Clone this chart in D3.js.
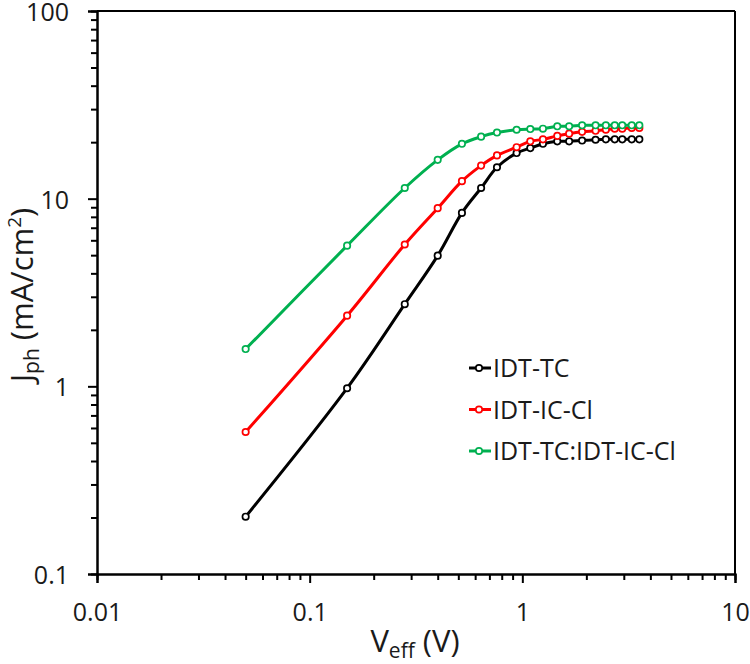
<!DOCTYPE html>
<html>
<head>
<meta charset="utf-8">
<script src="https://cdn.jsdelivr.net/npm/d3@7"></script>
<style>
  html, body { margin: 0; padding: 0; background: #fff; }
  svg { display: block; font-family: "Open Sans", "Noto Sans", sans-serif; }
</style>
</head>
<body>
<svg id="chart" width="750" height="664"></svg>
<script>
// ---- data ----
const veff = [0.05, 0.15, 0.28, 0.40, 0.52, 0.64, 0.76, 0.94, 1.09, 1.25, 1.46, 1.66, 1.91, 2.21, 2.47, 2.72, 2.95, 3.27, 3.55];
const jphIDTTC = [0.202, 0.977, 2.74, 4.97, 8.4, 11.4, 14.7, 17.5, 18.6, 19.6, 20.2, 20.2, 20.4, 20.6, 20.7, 20.7, 20.7, 20.7, 20.7];
const jphIDTICCl = [0.571, 2.38, 5.7, 8.9, 12.4, 15.0, 17.0, 18.8, 20.2, 20.7, 21.6, 22.2, 22.7, 23.0, 23.3, 23.6, 23.6, 23.8, 23.8];
const jphBlend = [1.58, 5.62, 11.4, 16.1, 19.6, 21.4, 22.5, 23.3, 23.5, 23.6, 24.3, 24.3, 24.6, 24.6, 24.6, 24.6, 24.6, 24.6, 24.6];
const seriesNames = ["IDT-TC", "IDT-IC-Cl", "IDT-TC:IDT-IC-Cl"];
const seriesColors = ["#000000", "#ff0000", "#00b050"];
const xTickValues = [0.01, 0.1, 1, 10];
const xTickLabels = ["0.01", "0.1", "1", "10"];
const yTickValues = [0.1, 1, 10, 100];
const yTickLabels = ["0.1", "1", "10", "100"];

const seriesData = [jphIDTTC, jphIDTICCl, jphBlend];

// ---- layout ----
const svg = d3.select("#chart");
const L = 97, R = 735, T = 11, B = 574;

const x = d3.scaleLog().domain([0.01, 10]).range([L, R]);
const y = d3.scaleLog().domain([0.1, 100]).range([B, T]);

function minorTicks(lo, hi) {
  const out = [];
  for (let d = lo; d < hi; d *= 10) {
    for (let k = 2; k <= 9; k++) out.push(d * k);
  }
  return out;
}

// frame (top and right)
svg.append("line").attr("x1", L).attr("x2", R).attr("y1", T).attr("y2", T)
  .attr("stroke", "#000").attr("stroke-width", 2);
svg.append("line").attr("x1", R).attr("x2", R).attr("y1", T).attr("y2", B)
  .attr("stroke", "#000").attr("stroke-width", 2);

// minor ticks
const xMinor = svg.append("g").attr("transform", `translate(0,${B})`)
  .call(d3.axisBottom(x).tickValues(minorTicks(0.01, 10)).tickSize(6).tickFormat(""));
const yMinor = svg.append("g").attr("transform", `translate(${L},0)`)
  .call(d3.axisLeft(y).tickValues(minorTicks(0.1, 100)).tickSize(6).tickFormat(""));

// major axes
const xAxis = svg.append("g").attr("transform", `translate(0,${B})`)
  .call(d3.axisBottom(x).tickValues(xTickValues).tickSize(9).tickPadding(20)
    .tickFormat((d, i) => xTickLabels[i]));
const yAxis = svg.append("g").attr("transform", `translate(${L},0)`)
  .call(d3.axisLeft(y).tickValues(yTickValues).tickSize(9).tickPadding(19)
    .tickFormat((d, i) => yTickLabels[i]));

[xMinor, yMinor, xAxis, yAxis].forEach(g => {
  g.select(".domain").attr("stroke-width", 2).attr("stroke", "#000");
  g.selectAll(".tick line").attr("stroke-width", 2).attr("stroke", "#000");
  g.selectAll(".tick text").attr("font-size", 25).attr("fill", "#1a1a1a")
    .attr("font-family", "'Open Sans', sans-serif");
});
yAxis.selectAll(".tick text").attr("dy", "0.38em");

// axis titles
const xt = svg.append("text").attr("x", 415).attr("y", 652).attr("text-anchor", "middle")
  .attr("font-size", 31).attr("fill", "#1a1a1a");
xt.append("tspan").text("V");
xt.append("tspan").attr("font-size", 21).attr("dy", 6).text("eff");
xt.append("tspan").attr("dy", -6).text(" (V)");

const yt = svg.append("text").attr("transform", "translate(33,295) rotate(-90)")
  .attr("text-anchor", "middle").attr("font-size", 31).attr("fill", "#1a1a1a");
yt.append("tspan").text("J");
yt.append("tspan").attr("font-size", 21).attr("dy", 6).text("ph");
yt.append("tspan").attr("dy", -6).text(" (mA/cm");
yt.append("tspan").attr("font-size", 19).attr("dy", -12).text("2");
yt.append("tspan").attr("dy", 12).text(")");

// series
const line = d3.line()
  .x((d, i) => x(veff[i]))
  .y(d => y(d))
  .curve(d3.curveCatmullRom.alpha(0.5));

seriesData.forEach((vals, s) => {
  const g = svg.append("g");
  g.append("path").datum(vals).attr("d", line)
    .attr("fill", "none").attr("stroke", seriesColors[s]).attr("stroke-width", 3);
  g.selectAll("circle").data(vals).join("circle")
    .attr("cx", (d, i) => x(veff[i])).attr("cy", d => y(d)).attr("r", 3.2)
    .attr("fill", "#fff").attr("stroke", seriesColors[s]).attr("stroke-width", 1.7);
});

// legend
const legY = [368, 409.5, 451];
seriesNames.forEach((name, s) => {
  const g = svg.append("g").attr("transform", `translate(0,${legY[s]})`);
  g.append("line").attr("x1", 469).attr("x2", 491).attr("y1", 0).attr("y2", 0)
    .attr("stroke", seriesColors[s]).attr("stroke-width", 3);
  g.append("circle").attr("cx", 479).attr("cy", 0).attr("r", 3.2)
    .attr("fill", "#fff").attr("stroke", seriesColors[s]).attr("stroke-width", 1.7);
  g.append("text").attr("x", 493).attr("y", 0).attr("dy", "0.36em")
    .attr("font-size", 25).attr("fill", "#1a1a1a").text(name);
});
</script>
</body>
</html>
